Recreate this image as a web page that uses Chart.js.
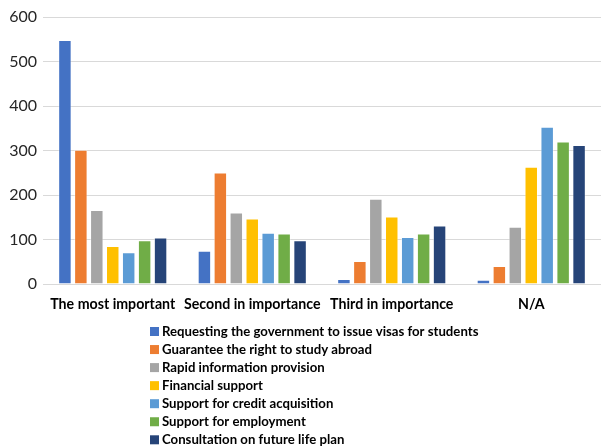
<!DOCTYPE html>
<html>
<head>
<meta charset="utf-8">
<script src="https://cdn.jsdelivr.net/npm/chart.js@4"></script>
<style>
html,body{margin:0;padding:0;background:#fff;}
#wrap{width:601px;height:446px;position:relative;}
</style>
</head>
<body>
<div id="wrap"><canvas id="c" width="601" height="446"></canvas></div>
<script>
const categories = ["The most important", "Second in importance", "Third in importance", "N/A"];
const seriesNames = [
  "Requesting the government to issue visas for students",
  "Guarantee the right to study abroad",
  "Rapid information provision",
  "Financial support",
  "Support for credit acquisition",
  "Support for employment",
  "Consultation on future life plan"
];
const visas = [548, 74, 11, 9];
const rightAbroad = [301, 250, 51, 40];
const rapidInfo = [166, 160, 191, 128];
const financial = [85, 147, 151, 263];
const credit = [71, 115, 105, 353];
const employment = [98, 113, 113, 320];
const lifePlan = [104, 98, 131, 312];
const yTicks = [0, 100, 200, 300, 400, 500, 600];

const colors = ["#4472C4", "#ED7D31", "#A5A5A5", "#FFC000", "#5B9BD5", "#70AD47", "#264478"];
const seriesValues = [visas, rightAbroad, rapidInfo, financial, credit, employment, lifePlan];

const FONT = "Lato, 'Open Sans', sans-serif";

const legendPlugin = {
  id: 'vlegend',
  afterDraw(chart) {
    const ctx = chart.ctx;
    ctx.save();
    ctx.font = "bold 13.2px " + FONT;
    ctx.textBaseline = "middle";
    ctx.textAlign = "left";
    chart.data.datasets.forEach((ds, i) => {
      const y = 331.5 + i * 18.05;
      ctx.fillStyle = ds.backgroundColor;
      ctx.fillRect(150, y - 4.5, 9, 9);
      ctx.fillStyle = "#000";
      ctx.fillText(ds.label, 162, y);
    });
    ctx.restore();
  }
};

new Chart(document.getElementById('c'), {
  type: 'bar',
  data: {
    labels: categories,
    datasets: seriesNames.map((n, i) => ({
      label: n,
      data: seriesValues[i],
      backgroundColor: colors[i],
      borderColor: "rgba(255,255,255,0.6)",
      borderWidth: 0.8,
      categoryPercentage: 0.8,
      barPercentage: 0.82
    }))
  },
  options: {
    responsive: false,
    animation: false,
    devicePixelRatio: 1,
    layout: { padding: { top: 17, left: 0, right: 0, bottom: 0 } },
    plugins: { legend: { display: false }, tooltip: { enabled: false } },
    scales: {
      x: {
        grid: { display: false },
        border: { display: false },
        ticks: { color: "#000", font: { family: FONT, size: 14.2, weight: 'bold' }, padding: 4, maxRotation: 0, autoSkip: false },
        afterFit(s) { s.height = 162; }
      },
      y: {
        min: 0, max: 600,
        afterBuildTicks(s) { s.ticks = yTicks.map(v => ({ value: v })); },
        grid: { color: "#D9D9D9", lineWidth: 1, drawTicks: false },
        border: { display: false },
        ticks: { color: "#262626", font: { family: FONT, size: 16 }, padding: 6 },
        afterFit(s) { s.width = 43; }
      }
    }
  },
  plugins: [legendPlugin]
});
</script>
</body>
</html>
